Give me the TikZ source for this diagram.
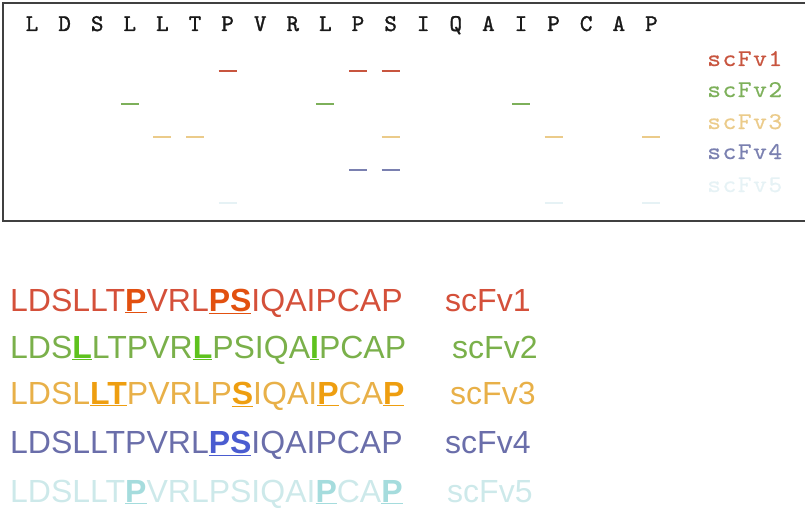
\documentclass[tikz,border=0pt]{standalone}
\usepackage{fontspec}
\setmainfont{Liberation Sans}
\newfontfamily\resfont[FakeBold=1.2]{lmmono10-regular.otf}
\newfontfamily\keyfont[FakeBold=0.6,FakeStretch=1.1,LetterSpace=6]{lmmono10-regular.otf}
\usepackage{xcolor}
\definecolor{sred}{HTML}{D4503A}
\definecolor{hred}{HTML}{E2500F}
\definecolor{sgreen}{HTML}{7AB04A}
\definecolor{hgreen}{HTML}{5EC21E}
\definecolor{sorange}{HTML}{E8B048}
\definecolor{horange}{HTML}{EE9E10}
\definecolor{sblue}{HTML}{6A6EAA}
\definecolor{hblue}{HTML}{4A5CD0}
\definecolor{scyan}{HTML}{CDE9EA}
\definecolor{hcyan}{HTML}{A5DCDD}
\definecolor{kred}{HTML}{C8553F}
\definecolor{kgreen}{HTML}{7DB05A}
\definecolor{korange}{HTML}{EBCB8A}
\definecolor{kblue}{HTML}{7A80B0}
\definecolor{kcyan}{HTML}{E6F2F5}
\newcommand{\hit}[2]{\textcolor{#1}{\bfseries\underline{#2}}}

\begin{document}
\begin{tikzpicture}[x=1pt,y=-1pt,
  residue/.style={font=\resfont\fontsize{24}{24}\selectfont,anchor=base,inner sep=0pt,text=black!90},
  boxlabel/.style={font=\keyfont\fontsize{24}{24}\selectfont,anchor=base west,inner sep=0pt},
  seqrow/.style={font=\fontsize{32}{32}\selectfont,anchor=base west,inner sep=0pt},
  hitmark/.style={line width=2pt}]
  \useasboundingbox (0,0) rectangle (805,511);
  \draw[line width=2pt,black!75] (812,3) -- (3,3) -- (3,221) -- (812,221);
  \foreach \res [count=\i from 0] in {L,D,S,L,L,T,P,V,R,L,P,S,I,Q,A,I,P,C,A,P}
    \node[residue] (r\i) at (32+32.6*\i,31) {\res};
  \foreach \j in {6,10,11}
    \draw[hitmark,kred] (r\j.base |- 0,71) ++(-9,0) -- ++(18,0);
  \foreach \j in {3,9,15}
    \draw[hitmark,kgreen] (r\j.base |- 0,104) ++(-9,0) -- ++(18,0);
  \foreach \j in {4,5,11,16,19}
    \draw[hitmark,korange] (r\j.base |- 0,137) ++(-9,0) -- ++(18,0);
  \foreach \j in {10,11}
    \draw[hitmark,kblue] (r\j.base |- 0,170) ++(-9,0) -- ++(18,0);
  \foreach \j in {6,16,19}
    \draw[hitmark,kcyan] (r\j.base |- 0,203) ++(-9,0) -- ++(18,0);
  \foreach \k/\y/\c in {1/66/kred,2/97/kgreen,3/129/korange,4/159/kblue,5/192/kcyan}
    \node[boxlabel,text=\c] (key\k) at (707,\y) {scFv\k};
  \node[seqrow,text=sred] (seq1) at (10,311) {LDSLLT\hit{hred}{P}VRL\hit{hred}{PS}IQAIPCAP};
  \node[seqrow,text=sgreen] (seq2) at (10,358) {LDS\hit{hgreen}{L}LTPVR\hit{hgreen}{L}PSIQA\hit{hgreen}{I}PCAP};
  \node[seqrow,text=sorange] (seq3) at (10,404) {LDSL\hit{horange}{LT}PVRLP\hit{horange}{S}IQAI\hit{horange}{P}CA\hit{horange}{P}};
  \node[seqrow,text=sblue] (seq4) at (10,453) {LDSLLTPVRL\hit{hblue}{PS}IQAIPCAP};
  \node[seqrow,text=scyan] (seq5) at (10,502) {LDSLLT\hit{hcyan}{P}VRLPSIQAI\hit{hcyan}{P}CA\hit{hcyan}{P}};
  \node[seqrow,text=sred] (name1) at (445,311) {scFv1};
  \node[seqrow,text=sgreen] (name2) at (452,358) {scFv2};
  \node[seqrow,text=sorange] (name3) at (450,404) {scFv3};
  \node[seqrow,text=sblue] (name4) at (445,453) {scFv4};
  \node[seqrow,text=scyan] (name5) at (447,502) {scFv5};
\end{tikzpicture}
\end{document}
